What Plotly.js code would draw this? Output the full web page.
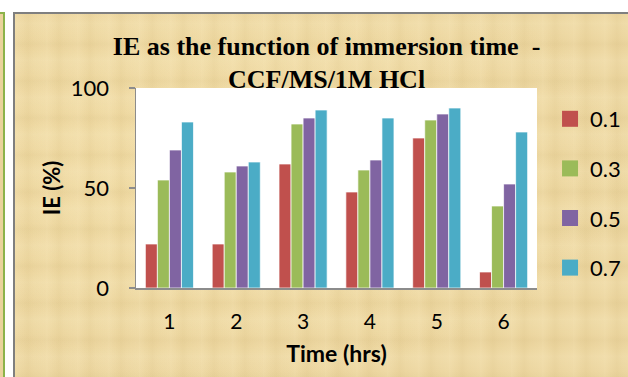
<!DOCTYPE html>
<html>
<head>
<meta charset="utf-8">
<script src="https://cdn.plot.ly/plotly-3.0.1.min.js"></script>
<style>
  html, body { margin: 0; padding: 0; width: 628px; height: 377px; overflow: hidden; background: #ffffff; }
  #stage { position: relative; width: 628px; height: 377px; }
  /* neighbouring panel edge on the far left */
  #leftEdge {
    position: absolute; left: -10px; top: 12px; width: 13px; height: 380px;
    border: 2px solid #8cb34a; border-left: none;
    background: #ead39c;
  }
  /* parchment panel behind the chart */
  #panel {
    position: absolute; left: 13px; top: 12px; width: 640px; height: 380px;
    border-left: 2px solid #7f7f7f; border-top: 2px solid #7f7f7f;
    background-color: #ecd6a0;
    background-image:
      repeating-linear-gradient(90deg, rgba(255,240,200,0.18) 0px, rgba(255,240,200,0) 7px, rgba(190,160,90,0.07) 13px, rgba(255,240,200,0) 19px, rgba(255,240,200,0.12) 31px),
      repeating-linear-gradient(0deg, rgba(255,245,210,0.16) 0px, rgba(255,245,210,0) 9px, rgba(180,150,80,0.07) 17px, rgba(255,245,210,0) 23px, rgba(255,245,210,0.14) 37px),
      radial-gradient(ellipse at 30% 40%, rgba(245,225,170,0.5), rgba(230,200,140,0) 70%);
  }
  #chart { position: absolute; left: 0; top: 0; width: 628px; height: 377px; }
</style>
</head>
<body>
<div id="stage">
  <div id="leftEdge"></div>
  <div id="panel"></div>
  <div id="chart"></div>
</div>
<script>
// Immersion time (hours)
const times = ['1', '2', '3', '4', '5', '6'];

// Inhibitor concentrations shown in the legend
const concentrations = ['0.1', '0.3', '0.5', '0.7'];

// Inhibition efficiency (%) per concentration
const ie_01 = [22, 22, 62, 48, 75, 8];
const ie_03 = [54, 58, 82, 59, 84, 41];
const ie_05 = [69, 61, 85, 64, 87, 52];
const ie_07 = [83, 63, 89, 85, 90, 78];

const seriesValues = [ie_01, ie_03, ie_05, ie_07];
const seriesColors = ['#c0504d', '#9bbb59', '#8064a2', '#4bacc6'];

const yTickValues = [0, 50, 100];

const traces = [];
concentrations.forEach((c, i) => {
  traces.push({
    type: 'bar',
    name: c,
    x: times,
    y: seriesValues[i],
    legendgroup: 'g' + i,
    showlegend: false,
    marker: { color: seriesColors[i], line: { color: 'rgba(255,255,255,0.7)', width: 1 } },
    hoverinfo: 'x+y+name'
  });
});
// legend entries with larger square swatches
concentrations.forEach((c, i) => {
  traces.push({
    type: 'scatter',
    mode: 'markers',
    name: c,
    x: [null],
    y: [null],
    legendgroup: 'g' + i,
    marker: { symbol: 'square', size: 16, color: seriesColors[i] },
    hoverinfo: 'skip'
  });
});

const layout = {
  width: 628,
  height: 377,
  margin: { l: 136, r: 91, t: 88, b: 89, autoexpand: false },
  paper_bgcolor: 'rgba(0,0,0,0)',
  plot_bgcolor: '#ffffff',
  barmode: 'group',
  bargap: 0.28,
  bargroupgap: 0,
  font: { family: 'Lato, "DejaVu Sans", sans-serif', size: 22, color: '#000000' },
  title: {
    text: 'IE as the function of immersion time  -<br>CCF/MS/1M HCl',
    font: { family: '"Liberation Serif", "Times New Roman", serif', size: 26, color: '#000000', weight: 'bold' },
    xref: 'container', x: 0.52, xanchor: 'center',
    yref: 'container', y: 0.855, yanchor: 'top'
  },
  xaxis: {
    type: 'category',
    showgrid: false,
    showline: true, linecolor: '#8c8c8c', linewidth: 2,
    ticks: '',
    ticklabelstandoff: 14,
    tickfont: { size: 21 },
    title: { text: 'Time (hrs)', font: { size: 23, weight: 'bold' }, standoff: 14 },
    fixedrange: true
  },
  yaxis: {
    range: [0, 100],
    tickvals: yTickValues,
    ticktext: yTickValues.map(String),
    showgrid: false,
    zeroline: false,
    showline: true, linecolor: '#8c8c8c', linewidth: 1.5,
    ticks: 'outside', ticklen: 6, tickcolor: '#8c8c8c', tickwidth: 1.5,
    ticklabelstandoff: 15,
    tickfont: { size: 22 },
    title: { text: 'IE (%)', font: { size: 22, weight: 'bold' }, standoff: 4 },
    fixedrange: true
  },
  legend: {
    x: 1.0325, xanchor: 'left',
    y: 0.95, yanchor: 'top',
    bgcolor: 'rgba(0,0,0,0)',
    font: { size: 22 },
    traceorder: 'grouped',
    tracegroupgap: 18,
    itemwidth: 30
  },
  showlegend: true
};

Plotly.newPlot('chart', traces, layout, { displayModeBar: false, staticPlot: true });
</script>
</body>
</html>
